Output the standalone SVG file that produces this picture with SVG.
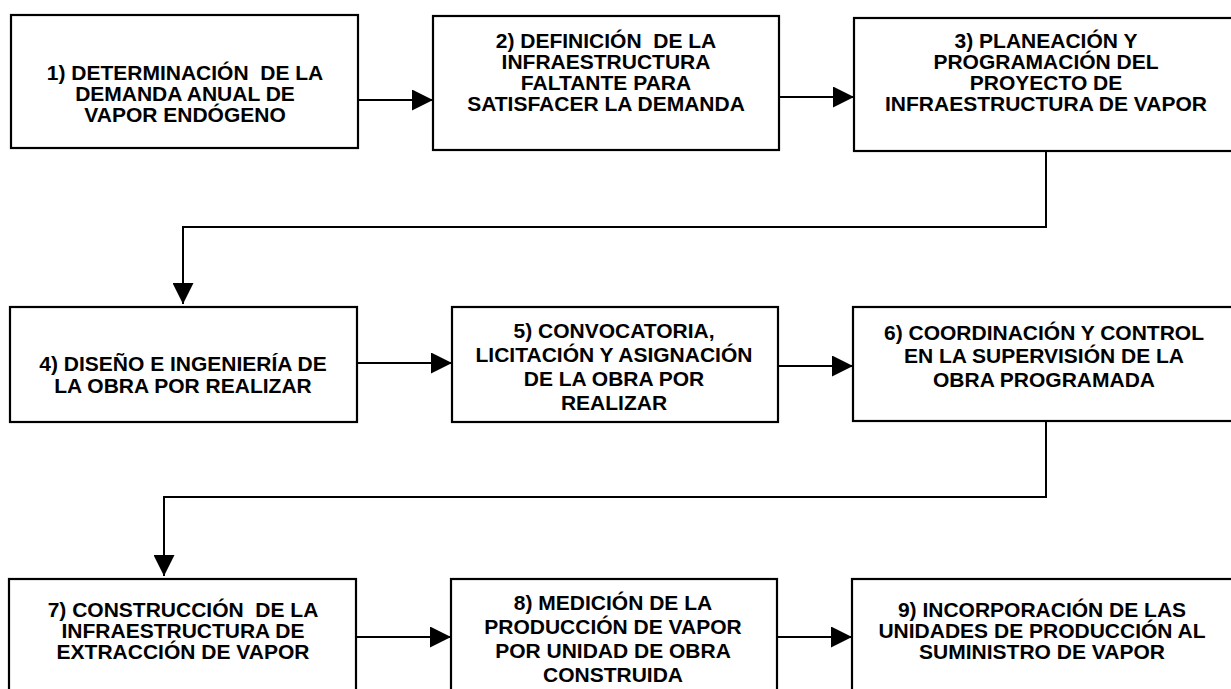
<svg xmlns="http://www.w3.org/2000/svg" width="1231" height="689" viewBox="0 0 1231 689">
<style>
.box{fill:#fff;stroke:#000;stroke-width:2.2}
.t{font-family:"Liberation Sans",Arial,sans-serif;font-weight:bold;font-size:21px;text-anchor:middle;fill:#000}
.c{fill:none;stroke:#000;stroke-width:2}
</style>
<defs>
<marker id="ah" markerUnits="userSpaceOnUse" markerWidth="21" markerHeight="21" refX="20" refY="10" orient="auto" viewBox="0 0 20 20">
<path d="M0,0 L20,10 L0,20 Z" fill="#000"/>
</marker>
</defs>
<rect width="1231" height="689" fill="#fff"/>
<g id="connectors">
<path class="c" d="M358,100 H433" marker-end="url(#ah)"/>
<path class="c" d="M779,97 H854" marker-end="url(#ah)"/>
<path class="c" d="M1046,151 V227 H183 V304" marker-end="url(#ah)"/>
<path class="c" d="M357,363 H452" marker-end="url(#ah)"/>
<path class="c" d="M778,366 H853" marker-end="url(#ah)"/>
<path class="c" d="M1046,421 V497 H164 V576" marker-end="url(#ah)"/>
<path class="c" d="M356,637 H451" marker-end="url(#ah)"/>
<path class="c" d="M777,637 H852" marker-end="url(#ah)"/>
</g>
<g id="n1">
<rect class="box" x="11" y="15" width="347" height="133"/>
<text class="t" x="185" y="80" xml:space="preserve">1) DETERMINACIÓN  DE LA</text>
<text class="t" x="185" y="101">DEMANDA ANUAL DE</text>
<text class="t" x="185" y="122">VAPOR ENDÓGENO</text>
</g>
<g id="n2">
<rect class="box" x="433" y="16" width="346" height="134"/>
<text class="t" x="606" y="48" xml:space="preserve">2) DEFINICIÓN  DE LA</text>
<text class="t" x="606" y="69">INFRAESTRUCTURA</text>
<text class="t" x="606" y="90">FALTANTE PARA</text>
<text class="t" x="606" y="111">SATISFACER LA DEMANDA</text>
</g>
<g id="n3">
<rect class="box" x="854" y="18" width="384" height="133"/>
<text class="t" x="1046" y="48">3) PLANEACIÓN Y</text>
<text class="t" x="1046" y="69">PROGRAMACIÓN DEL</text>
<text class="t" x="1046" y="90">PROYECTO DE</text>
<text class="t" x="1046" y="111">INFRAESTRUCTURA DE VAPOR</text>
</g>
<g id="n4">
<rect class="box" x="10" y="307" width="347" height="115"/>
<text class="t" x="183" y="371">4) DISEÑO E INGENIERÍA DE</text>
<text class="t" x="183" y="393">LA OBRA POR REALIZAR</text>
</g>
<g id="n5">
<rect class="box" x="452" y="307" width="326" height="115"/>
<text class="t" x="614" y="338">5) CONVOCATORIA,</text>
<text class="t" x="614" y="362">LICITACIÓN Y ASIGNACIÓN</text>
<text class="t" x="614" y="386">DE LA OBRA POR</text>
<text class="t" x="614" y="410">REALIZAR</text>
</g>
<g id="n6">
<rect class="box" x="853" y="307" width="385" height="114"/>
<text class="t" x="1044" y="340">6) COORDINACIÓN Y CONTROL</text>
<text class="t" x="1044" y="363">EN LA SUPERVISIÓN DE LA</text>
<text class="t" x="1044" y="387">OBRA PROGRAMADA</text>
</g>
<g id="n7">
<rect class="box" x="9" y="579" width="347" height="130"/>
<text class="t" x="183" y="617" xml:space="preserve">7) CONSTRUCCIÓN  DE LA</text>
<text class="t" x="183" y="638">INFRAESTRUCTURA DE</text>
<text class="t" x="183" y="659">EXTRACCIÓN DE VAPOR</text>
</g>
<g id="n8">
<rect class="box" x="451" y="579" width="326" height="130"/>
<text class="t" x="613" y="610">8) MEDICIÓN DE LA</text>
<text class="t" x="613" y="634">PRODUCCIÓN DE VAPOR</text>
<text class="t" x="613" y="658">POR UNIDAD DE OBRA</text>
<text class="t" x="613" y="682">CONSTRUIDA</text>
</g>
<g id="n9">
<rect class="box" x="852" y="579" width="386" height="130"/>
<text class="t" x="1042" y="617">9) INCORPORACIÓN DE LAS</text>
<text class="t" x="1042" y="638">UNIDADES DE PRODUCCIÓN AL</text>
<text class="t" x="1042" y="659">SUMINISTRO DE VAPOR</text>
</g>
</svg>
